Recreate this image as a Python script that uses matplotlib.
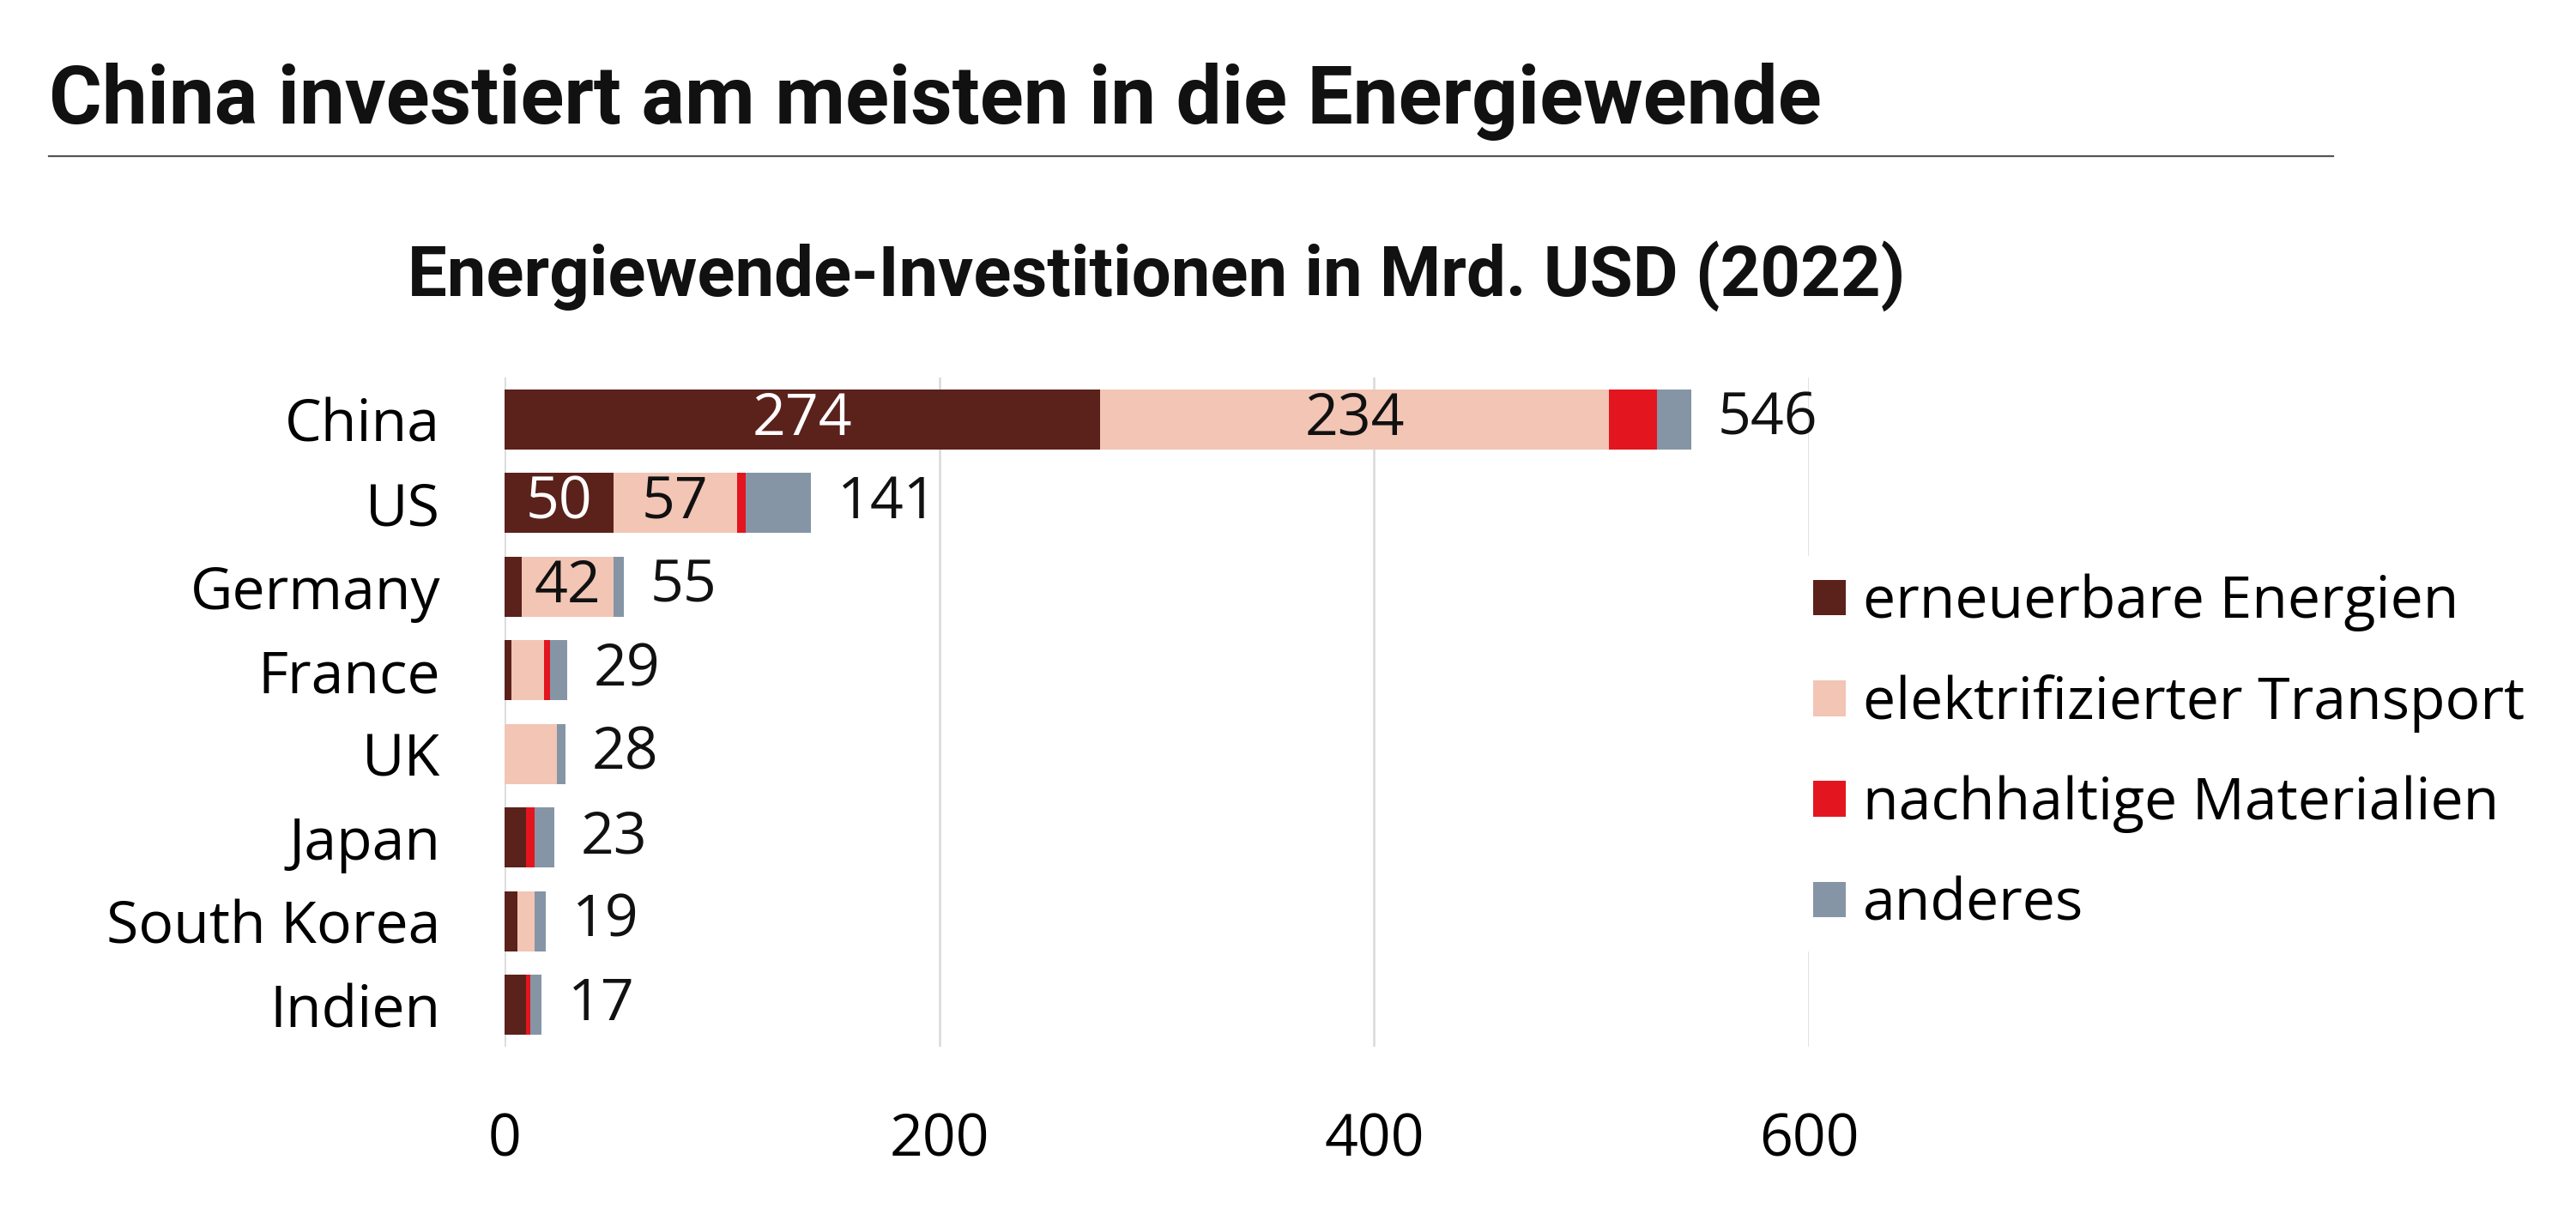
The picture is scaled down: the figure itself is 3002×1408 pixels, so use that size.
import matplotlib
matplotlib.use("Agg")
import matplotlib.pyplot as plt
from matplotlib.patches import Patch
import numpy as np

# ---- data ----
categories = ["China", "US", "Germany", "France", "UK", "Japan", "South Korea", "Indien"]
erneuerbare = [274, 50, 8, 3, 0, 10, 6, 10]
transport = [234, 57, 42, 15, 24, 0, 8, 0]
materialien = [22, 4, 0, 3, 0, 4, 0, 2]
anderes = [16, 30, 5, 8, 4, 9, 5, 5]
totals = [546, 141, 55, 29, 28, 23, 19, 17]

series_names = ["erneuerbare Energien", "elektrifizierter Transport",
                "nachhaltige Materialien", "anderes"]
series_colors = ["#5b211b", "#f2c5b5", "#e3161f", "#8595a5"]
label_colors = ["white", "#111111", "white", "#111111"]
x_ticks = [0, 200, 400, 600]

title = "China investiert am meisten in die Energiewende"
subtitle = "Energiewende-Investitionen in Mrd. USD (2022)"

BODY = ["Open Sans", "DejaVu Sans"]
HEAD = ["Roboto", "DejaVu Sans"]
FS = 49

fig = plt.figure(figsize=(30.02, 14.08), dpi=100)
fig.patch.set_facecolor("white")

ax = fig.add_axes([0.19587, 0.1335, 0.50633, 0.554])
y = np.arange(len(categories))
series = [erneuerbare, transport, materialien, anderes]
left = np.zeros(len(categories))
for vals, color, lc in zip(series, series_colors, label_colors):
    vals = np.array(vals, dtype=float)
    ax.barh(y, vals, left=left, height=0.72, color=color, zorder=3, linewidth=0)
    for i, v in enumerate(vals):
        if v >= 40:
            ax.text(left[i] + v / 2, y[i], f"{int(v)}", ha="center", va="center",
                    fontsize=FS, color=lc, family=BODY, zorder=4)
    left += vals

for i, t in enumerate(totals):
    ax.annotate(f"{t}", xy=(left[i], y[i]), xytext=(22, 0), textcoords="offset points",
                ha="left", va="center", fontsize=FS, color="#111111", family=BODY,
                annotation_clip=False)

ax.set_xlim(0, 600)
ax.set_ylim(len(categories) - 0.5, -0.5)
ax.set_xticks(x_ticks)
ax.set_xticklabels([str(v) for v in x_ticks], family=BODY, fontsize=FS)
ax.set_yticks(y)
ax.set_yticklabels(categories, family=BODY, fontsize=FS)
ax.tick_params(axis="x", length=0, pad=55)
ax.tick_params(axis="y", length=0, pad=54)
ax.grid(axis="x", color="#d9d9d9", linewidth=1.8, zorder=0)
ax.grid(axis="y", visible=False)
ax.set_axisbelow(True)
for s in ax.spines.values():
    s.set_visible(False)

handles = [Patch(facecolor=c, edgecolor="none") for c in series_colors]
leg = fig.legend(handles, series_names, loc="center left",
                 bbox_to_anchor=(0.6972, 0.376), bbox_transform=fig.transFigure,
                 frameon=True, fancybox=False, facecolor="white", edgecolor="none",
                 framealpha=1.0, borderpad=0.3, borderaxespad=0,
                 handlelength=0.55, handleheight=0.56, handletextpad=0.3,
                 labelspacing=0.73, prop={"family": BODY, "size": FS})
leg.set_zorder(10)

fig.text(0.019, 0.8977, title, ha="left", va="baseline", fontsize=68,
         fontweight="bold", family=HEAD, color="#111111")
fig.add_artist(plt.Line2D([0.019, 0.9057], [0.8707, 0.8707], transform=fig.transFigure,
                          color="#555555", linewidth=1.6))
fig.text(0.449, 0.755, subtitle, ha="center", va="baseline", fontsize=58.7,
         fontweight="bold", family=HEAD, color="#111111")

fig.savefig("out.png", dpi=100, facecolor="white")
